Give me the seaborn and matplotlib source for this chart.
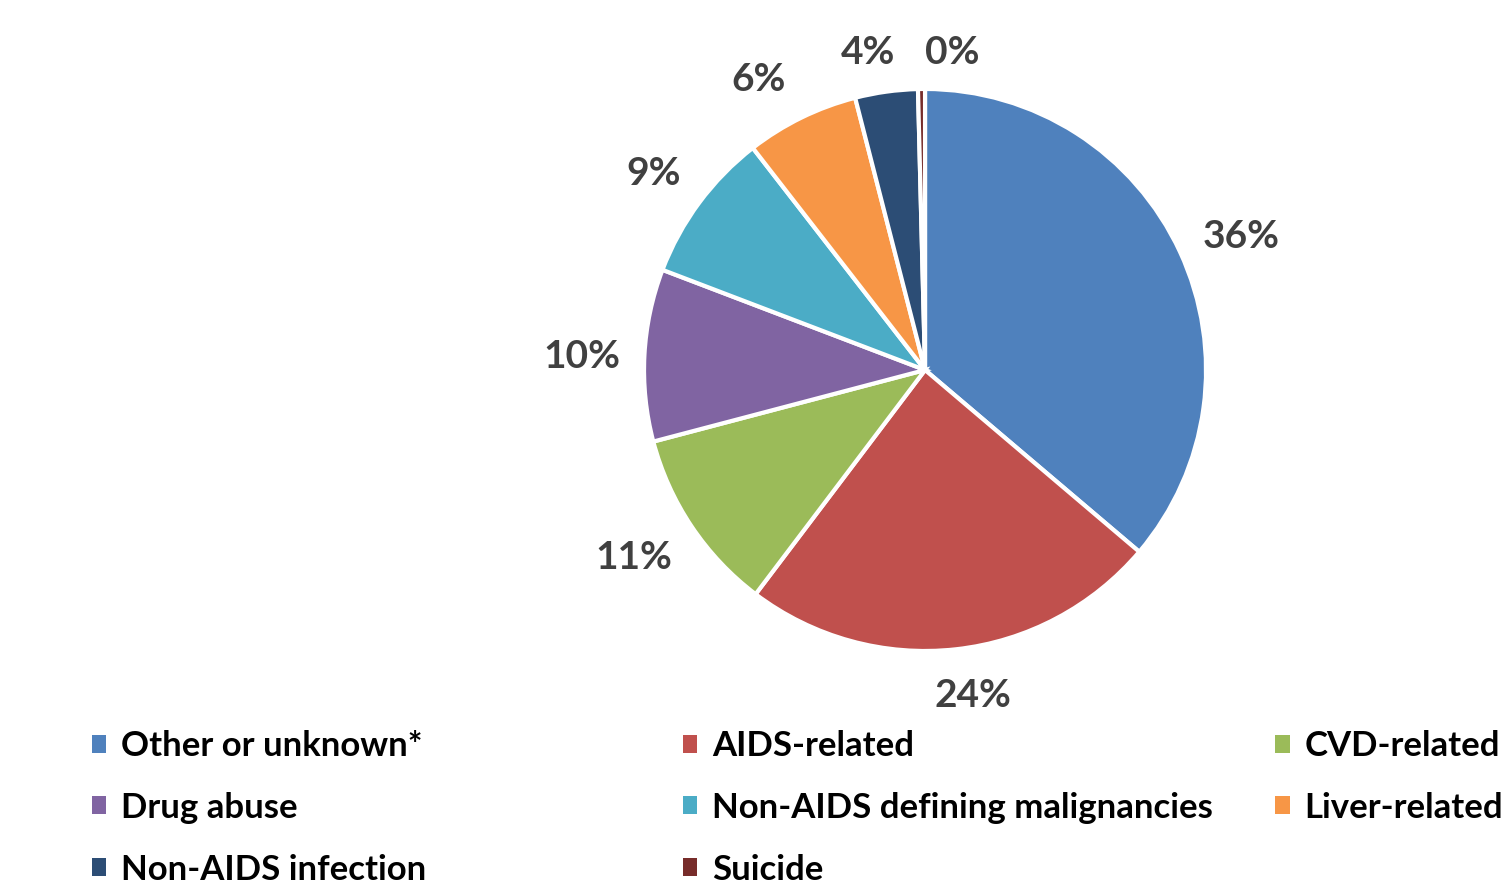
import matplotlib
matplotlib.use("Agg")
import numpy as np
import matplotlib.pyplot as plt
import seaborn as sns
from matplotlib.patches import Patch

sns.set_theme(style="white")
plt.rcParams['font.family'] = ['Lato', 'DejaVu Sans']

# Données : causes de décès (%)
causes = ["Other or unknown*", "AIDS-related", "CVD-related", "Drug abuse",
          "Non-AIDS defining malignancies", "Liver-related",
          "Non-AIDS infection", "Suicide"]
valeurs = [36.2, 24.1, 10.6, 9.9, 8.7, 6.5, 3.6, 0.4]
couleurs = ["#4F81BD", "#C0504D", "#9BBB59", "#8064A2",
            "#4BACC6", "#F79646", "#2C4D75", "#772C2A"]

# petits décalages (px) des étiquettes, comme le placement Excel
decal_x = [0, 12, -3, 3, 0, -20, -12, 3]
decal_y = [-13, -2, 6, -5, -5, -8, -5, -5]

fig = plt.figure(figsize=(15.04, 8.88), dpi=100)
ax = fig.add_axes([0.4282, 0.2669, 0.3737, 0.6329])

wedges, textes, pcts = ax.pie(
    valeurs, colors=couleurs, startangle=90, counterclock=False,
    autopct="%1.0f%%", pctdistance=1.2,
    wedgeprops=dict(edgecolor="white", linewidth=3),
    textprops=dict(fontsize=28, fontweight="bold", color="#404040"))
ax.set_xlim(-1, 1)
ax.set_ylim(-1, 1)
ax.set_aspect("equal")

# labels "outside end" façon Excel : bord du texte à distance fixe du disque
fig.canvas.draw()
rend = fig.canvas.get_renderer()
px = ax.get_window_extent().width / 2.0
for w, t, dx, dy in zip(wedges, pcts, decal_x, decal_y):
    ang = np.deg2rad((w.theta1 + w.theta2) / 2.0)
    bb = t.get_window_extent(rend)
    hw = bb.width / 2.0 / px
    hh = bb.height / 2.0 / px * 0.8
    r = 1.095 + hw * abs(np.cos(ang)) + hh * abs(np.sin(ang))
    t.set_position((r * np.cos(ang) + dx / px, r * np.sin(ang) + dy / px))

# décaler le label 0% pour éviter le chevauchement avec 4%
x, y = pcts[-1].get_position()
pcts[-1].set_position((x + 0.1, y))

# Légende en 3 colonnes (ordre ligne par ligne)
col_x = [0.061, 0.454, 0.848]
for j, cx in enumerate(col_x):
    idx = list(range(j, len(causes), 3))
    handles = [Patch(facecolor=couleurs[i], edgecolor="none") for i in idx]
    labels = [causes[i] for i in idx]
    leg = fig.legend(handles, labels, loc="upper left", bbox_to_anchor=(cx, 0.178),
                     frameon=False, handlelength=0.42, handleheight=0.42,
                     handletextpad=0.42, labelspacing=0.86, borderaxespad=0,
                     borderpad=0, prop=dict(size=25, weight="bold"))
    for txt in leg.get_texts():
        txt.set_color("black")

fig.savefig("out.png", dpi=100)
